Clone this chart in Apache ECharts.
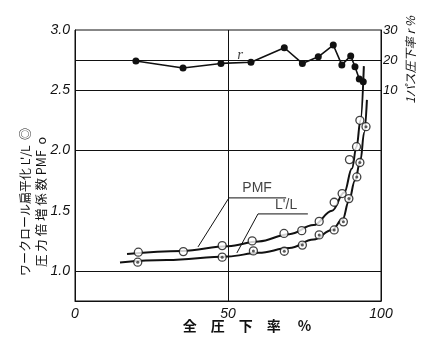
<!DOCTYPE html>
<html>
<head>
<meta charset="utf-8">
<script src="https://cdn.jsdelivr.net/npm/echarts@6/dist/echarts.min.js"></script>
<style>
html,body{margin:0;padding:0;background:#fff;}
#main{width:425px;height:339px;}
</style>
</head>
<body>
<div id="main"></div>
<script>
// 1パス圧下率 r (右軸)
var rX   = [19.9, 35.3, 47.7, 57.5, 68.4, 74.3, 79.5, 84.4, 87.2, 90.1, 91.5, 92.9, 94.2];
var rVal = [19.7, 17.4, 18.9, 19.3, 24.1, 18.9, 21.1, 25.0, 18.4, 21.4, 17.8, 13.7, 12.8];
// PMF 測定点 (○)
var pmfX   = [20.7, 35.4, 48.1, 57.9, 68.3, 74.1, 79.8, 84.7, 87.3, 89.7, 92.0, 93.1];
var pmfVal = [1.155, 1.16, 1.21, 1.249, 1.311, 1.334, 1.411, 1.57, 1.642, 1.924, 2.031, 2.25];
// L'/L 測定点 (◎)
var llX   = [20.5, 48.1, 58.3, 68.4, 74.3, 79.8, 84.7, 87.7, 89.5, 92.1, 93.1, 95.1];
var llVal = [1.072, 1.114, 1.166, 1.163, 1.214, 1.299, 1.34, 1.407, 1.6, 1.78, 1.9, 2.197];
// 近似曲線
var pmfCurveX   = [17, 35, 50, 60, 70, 78, 84, 88, 90.5, 92, 93.3, 94.4];
var pmfCurveVal = [1.14, 1.165, 1.205, 1.245, 1.305, 1.38, 1.5, 1.65, 1.85, 2.03, 2.25, 2.70];
var llCurveX   = [14.7, 30, 50, 60, 70, 78, 84, 87.5, 89.5, 91.5, 93.3, 94.5, 95.4];
var llCurveVal = [1.07, 1.09, 1.12, 1.15, 1.19, 1.26, 1.34, 1.43, 1.58, 1.75, 1.92, 2.15, 2.42];
// 目盛
var xTicks = [0, 50, 100];
var hLines = [1.0, 2.0, 2.5, 2.75];
var vLines = [50];
// 引出線と注記
var pmfLeaderX = [40.2, 50.3, 69];
var pmfLeaderY = [1.199, 1.606, 1.606];
var llLeaderX = [52.9, 59.8, 76.1];
var llLeaderY = [1.149, 1.473, 1.473];
var pmfLabel = [59.5, 1.69, 'PMF'];
var llLabel = [69, 1.55, "L'/L"];
var rLabel = [54, 21.6, 'r'];

function zip(xs, ys) {
    return xs.map(function (x, i) { return [x, ys[i]]; });
}

var myChart = echarts.init(document.getElementById('main'));
var tickFont = {color: '#111', fontSize: 14, fontStyle: 'italic', fontFamily: '"Liberation Sans Narrow", "Liberation Sans", sans-serif'};
var cjk = '"Noto Sans CJK JP", sans-serif';

option = {
    animation: false,
    backgroundColor: '#fff',
    grid: {left: 75, right: 44, top: 30, bottom: 38, show: true, borderColor: '#111', borderWidth: 1},
    xAxis: {
        type: 'value', min: 0, max: 100, interval: 50,
        axisLine: {show: true, onZero: false, lineStyle: {color: '#111'}},
        axisTick: {show: false},
        splitLine: {show: false},
        axisLabel: Object.assign({margin: 6, formatter: function (v) { return xTicks.indexOf(v) >= 0 ? v : ''; }}, tickFont)
    },
    yAxis: [{
        type: 'value', min: 0.75, max: 3.0, interval: 0.25,
        axisLine: {show: true, onZero: false, lineStyle: {color: '#111'}},
        axisTick: {show: false},
        splitLine: {show: false},
        axisLabel: Object.assign({margin: 5, formatter: function (v) {
            return (v >= 1 && Math.abs(v * 2 - Math.round(v * 2)) < 1e-6) ? v.toFixed(1) : '';
        }}, tickFont)
    }, {
        type: 'value', min: -60, max: 30, interval: 10, position: 'right',
        axisLine: {show: true, onZero: false, lineStyle: {color: '#111'}},
        axisTick: {show: false},
        splitLine: {show: false},
        axisLabel: Object.assign({margin: 2, formatter: function (v) { return v >= 10 ? v : ''; }}, tickFont, {fontSize: 13})
    }],
    graphic: [
        {type: 'text', x: 25, y: 202, rotation: Math.PI / 2,
         style: {text: "ワークロール扁平化 L'/L  ◎", font: '12px ' + cjk, fill: '#111', align: 'center', verticalAlign: 'middle'}},
        {type: 'text', x: 41, y: 202, rotation: Math.PI / 2,
         style: {text: '圧 力 倍 増 係 数 PMF  o', font: '12.5px ' + cjk, fill: '#111', align: 'center', verticalAlign: 'middle'}},
        {type: 'text', x: 410, y: 60, rotation: Math.PI / 2,
         style: {text: '1パス圧下率 r %', font: 'italic 12px ' + cjk, fill: '#111', align: 'center', verticalAlign: 'middle'}},
        {type: 'text', x: 247, y: 326,
         style: {text: '全　圧　下　率　 %', font: 'bold 14px ' + cjk, fill: '#111', align: 'center', verticalAlign: 'middle'}}
    ],
    series: [
        {
            name: 'grid', type: 'line', data: [], silent: true,
            markLine: {
                symbol: 'none', silent: true, label: {show: false},
                lineStyle: {color: '#111', width: 1, type: 'solid'},
                data: hLines.map(function (v) { return {yAxis: v}; })
                    .concat(vLines.map(function (v) { return {xAxis: v}; }))
            }
        },
        {
            name: 'r', type: 'line', yAxisIndex: 1, data: zip(rX, rVal),
            symbol: 'circle', symbolSize: 7,
            itemStyle: {color: '#111'}, lineStyle: {color: '#111', width: 1.6}
        },
        {
            name: 'PMF曲線', type: 'line', data: zip(pmfCurveX, pmfCurveVal),
            smooth: 0.4, smoothMonotone: 'x', showSymbol: false,
            lineStyle: {color: '#111', width: 2}
        },
        {
            name: 'LL曲線', type: 'line', data: zip(llCurveX, llCurveVal),
            smooth: 0.4, smoothMonotone: 'x', showSymbol: false,
            lineStyle: {color: '#111', width: 2}
        },
        {
            name: 'PMF', type: 'scatter', data: zip(pmfX, pmfVal), z: 5,
            symbol: 'circle', symbolSize: 8,
            itemStyle: {color: '#fff', borderColor: '#111', borderWidth: 1.3}
        },
        {
            name: 'LL', type: 'scatter', data: zip(llX, llVal), z: 5,
            symbol: 'circle', symbolSize: 8,
            itemStyle: {color: '#fff', borderColor: '#111', borderWidth: 1.3}
        },
        {
            name: 'LLdot', type: 'scatter', data: zip(llX, llVal), z: 6,
            symbol: 'circle', symbolSize: 3,
            itemStyle: {color: '#333'}
        },
        {
            name: 'pmfLeader', type: 'line', data: zip(pmfLeaderX, pmfLeaderY),
            showSymbol: false, lineStyle: {color: '#111', width: 1}
        },
        {
            name: 'llLeader', type: 'line', data: zip(llLeaderX, llLeaderY),
            showSymbol: false, lineStyle: {color: '#111', width: 1}
        },
        {
            name: 'labels', type: 'scatter', symbolSize: 0, z: 7,
            data: [pmfLabel, llLabel],
            label: {show: true, position: 'inside', formatter: function (p) { return p.data[2]; },
                    color: '#111', fontSize: 14, fontFamily: 'Liberation Sans, sans-serif'}
        },
        {
            name: 'rlabel', type: 'scatter', symbolSize: 0, yAxisIndex: 1, z: 7,
            data: [rLabel],
            label: {show: true, position: 'inside', formatter: function (p) { return p.data[2]; },
                    color: '#111', fontSize: 15, fontStyle: 'italic', fontFamily: 'Liberation Serif, serif'}
        }
    ]
};

myChart.setOption(option);
</script>
</body>
</html>
